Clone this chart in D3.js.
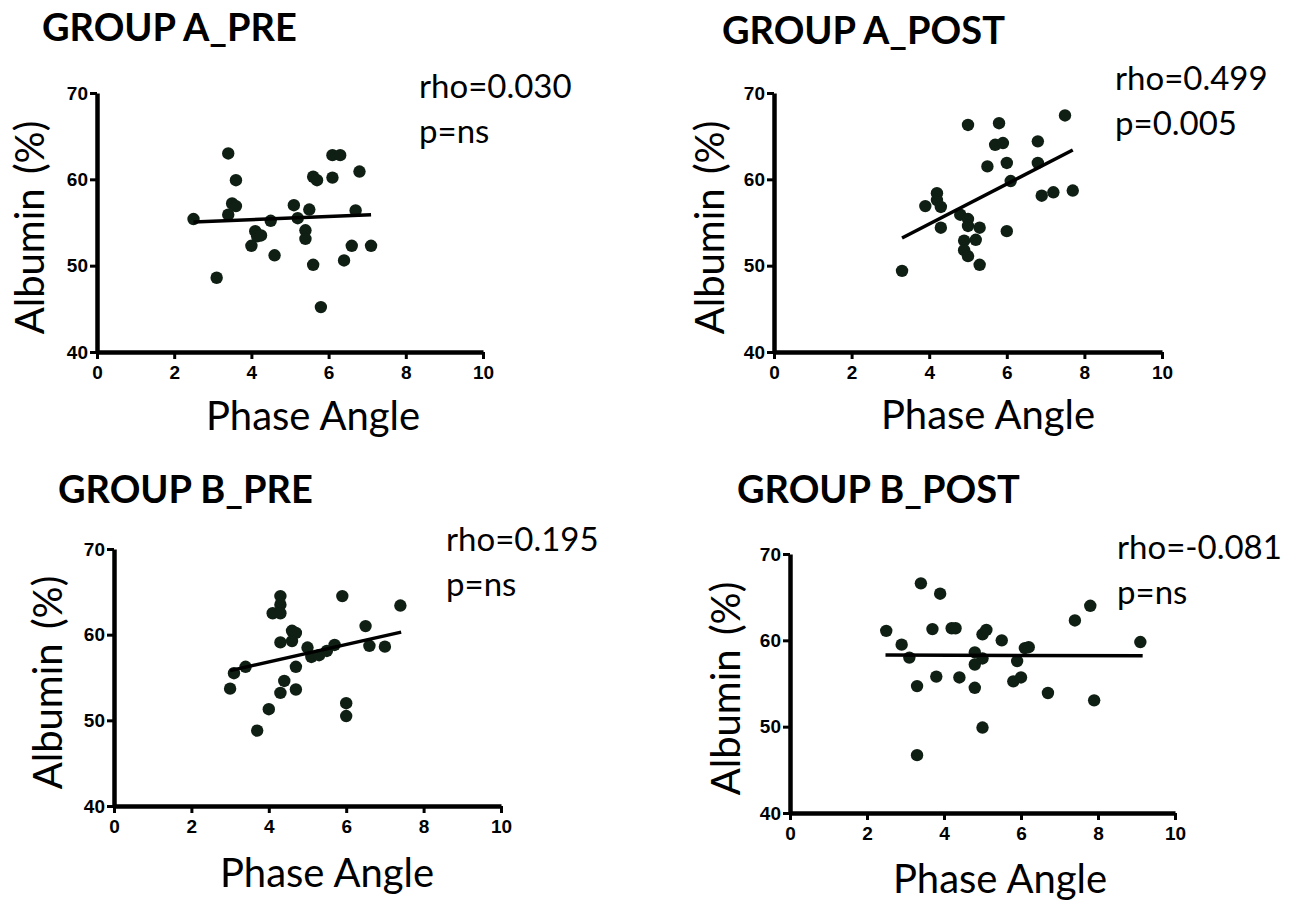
<!DOCTYPE html>
<html>
<head>
<meta charset="utf-8">
<script src="https://cdn.jsdelivr.net/npm/d3@7"></script>
<style>
  body { margin: 0; background: #fff; }
  .title { font-family: Lato, "Open Sans", sans-serif; font-weight: bold; font-size: 38px; }
  .lab { font-family: Lato, "Open Sans", sans-serif; font-size: 40px; }
  .stat { font-family: Lato, "Open Sans", sans-serif; font-size: 33px; }
</style>
</head>
<body>
<div id="chart"></div>
<script>
// data
var aPreX = [2.5, 3.1, 3.4, 3.4, 3.5, 3.6, 3.6, 4.0, 4.1, 4.15, 4.25, 4.5, 4.6, 5.1, 5.2, 5.4, 5.4, 5.5, 5.6, 5.7, 5.6, 5.8, 6.1, 6.1, 6.3, 6.4, 6.6, 6.7, 6.8, 7.1];
var aPreY = [55.4, 48.6, 63.0, 55.9, 57.2, 56.9, 59.9, 52.3, 54.0, 53.4, 53.5, 55.2, 51.2, 57.0, 55.5, 54.1, 53.1, 56.5, 60.3, 59.9, 50.1, 45.2, 60.2, 62.8, 62.8, 50.6, 52.3, 56.4, 60.9, 52.3];
var aPreFit = [[2.5, 55.05], [7.1, 55.9]];

var aPostX = [3.3, 3.9, 4.2, 4.2, 4.3, 4.3, 4.8, 4.9, 4.9, 5.0, 5.0, 5.0, 5.0, 5.2, 5.3, 5.3, 5.5, 5.7, 5.8, 5.9, 6.0, 6.0, 6.1, 6.8, 6.8, 6.9, 7.2, 7.5, 7.7];
var aPostY = [49.4, 56.9, 58.4, 57.6, 56.8, 54.4, 55.9, 52.9, 51.8, 51.1, 55.4, 54.6, 66.3, 53.0, 54.4, 50.1, 61.5, 64.0, 66.5, 64.2, 61.9, 54.0, 59.8, 64.4, 61.9, 58.1, 58.5, 67.4, 58.7];
var aPostFit = [[3.3, 53.2], [7.7, 63.4]];

var bPreX = [3.0, 3.1, 3.4, 3.7, 4.0, 4.1, 4.3, 4.3, 4.3, 4.3, 4.3, 4.4, 4.6, 4.7, 4.6, 4.7, 4.7, 5.0, 5.1, 5.3, 5.5, 5.7, 5.9, 6.0, 6.0, 6.5, 6.6, 7.0, 7.4];
var bPreY = [53.7, 55.5, 56.25, 48.8, 51.3, 62.5, 64.5, 63.5, 62.5, 59.1, 53.2, 54.6, 60.45, 60.2, 59.25, 56.25, 53.6, 58.5, 57.4, 57.6, 58.1, 58.8, 64.5, 52.0, 50.5, 61.0, 58.7, 58.6, 63.4];
var bPreFit = [[3.0, 55.8], [7.42, 60.3]];

var bPostX = [2.5, 2.9, 3.1, 3.3, 3.3, 3.4, 3.7, 3.8, 3.9, 4.2, 4.3, 4.4, 4.8, 4.8, 4.8, 5.0, 5.1, 5.0, 5.0, 5.5, 5.8, 5.9, 6.0, 6.1, 6.2, 6.7, 7.4, 7.8, 7.9, 9.1];
var bPostY = [61.1, 59.5, 58.0, 54.7, 46.7, 66.6, 61.3, 55.8, 65.4, 61.4, 61.4, 55.7, 58.6, 57.2, 54.5, 60.7, 61.2, 57.9, 49.9, 60.0, 55.25, 57.6, 55.7, 59.1, 59.2, 53.9, 62.3, 64.0, 53.05, 59.8];
var bPostFit = [[2.48, 58.3], [9.16, 58.2]];

var titles = ["GROUP A_PRE", "GROUP A_POST", "GROUP B_PRE", "GROUP B_POST"];
var rhoLabels = ["rho=0.030", "rho=0.499", "rho=0.195", "rho=-0.081"];
var pLabels = ["p=ns", "p=0.005", "p=ns", "p=ns"];
var xTicks = [0, 2, 4, 6, 8, 10];
var yTicks = [40, 50, 60, 70];

// panel layout (pixel frame of each plot)
var panels = [
  { x: aPreX, y: aPreY, fit: aPreFit, x0: 97, x1: 483, yT: 93, yB: 352, tx: 42, ty: 41, sx: 419, sy: 98, ax: 44, bx: 313, by: 430 },
  { x: aPostX, y: aPostY, fit: aPostFit, x0: 774, x1: 1162, yT: 93, yB: 352, tx: 722, ty: 44, sx: 1115, sy: 90, ax: 724, bx: 988, by: 429 },
  { x: bPreX, y: bPreY, fit: bPreFit, x0: 114, x1: 501, yT: 549, yB: 806, tx: 58, ty: 503, sx: 446, sy: 551, ax: 62, bx: 327, by: 887 },
  { x: bPostX, y: bPostY, fit: bPostFit, x0: 790, x1: 1175, yT: 554, yB: 813, tx: 737, ty: 503, sx: 1117, sy: 559, ax: 740, bx: 1000, by: 893 }
];

var svg = d3.select("#chart").append("svg")
  .attr("width", 1303)
  .attr("height", 901);

panels.forEach(function(p, i) {
  var xScale = d3.scaleLinear().domain([0, 10]).range([p.x0, p.x1]);
  var yScale = d3.scaleLinear().domain([40, 70]).range([p.yB, p.yT]);
  var g = svg.append("g");

  // axes
  var xAxis = g.append("g")
    .attr("transform", `translate(0,${p.yB})`)
    .call(d3.axisBottom(xScale).tickValues(xTicks).tickSize(7).tickSizeOuter(0).tickFormat(d3.format("d")));
  var yAxis = g.append("g")
    .attr("transform", `translate(${p.x0},0)`)
    .call(d3.axisLeft(yScale).tickValues(yTicks).tickSize(7).tickSizeOuter(0));
  [xAxis, yAxis].forEach(function(a) {
    a.select(".domain").attr("stroke", "#000").attr("stroke-width", 4.5);
    a.selectAll(".tick line").attr("stroke", "#000").attr("stroke-width", 3);
    a.selectAll(".tick text").attr("fill", "#000")
      .attr("style", "font: bold 19px 'Liberation Sans', Arial, sans-serif");
  });
  xAxis.selectAll(".tick text").attr("y", 13).attr("dy", "0.75em");
  yAxis.selectAll(".tick text").attr("x", -9);

  // points
  g.selectAll("circle")
    .data(d3.zip(p.x, p.y))
    .enter()
    .append("circle")
    .attr("cx", d => xScale(d[0]))
    .attr("cy", d => yScale(d[1]))
    .attr("r", 6.2)
    .attr("fill", "#0f1f14");

  // fit line
  g.append("path")
    .datum(p.fit)
    .attr("d", d3.line().x(d => xScale(d[0])).y(d => yScale(d[1])))
    .attr("stroke", "#000")
    .attr("stroke-width", 3.5)
    .attr("fill", "none");

  // texts
  g.append("text").attr("class", "title").attr("x", p.tx).attr("y", p.ty).text(titles[i]);
  g.append("text").attr("class", "stat").attr("x", p.sx).attr("y", p.sy).text(rhoLabels[i]);
  g.append("text").attr("class", "stat").attr("x", p.sx).attr("y", p.sy + 45).text(pLabels[i]);
  var yl = g.append("text").attr("class", "lab")
    .attr("transform", `translate(${p.ax},${(p.yT + p.yB) / 2 + 5}) rotate(-90)`)
    .attr("text-anchor", "middle");
  yl.append("tspan").text("Albumin ");
  yl.append("tspan").attr("dx", 4).text("(%)");
  g.append("text").attr("class", "lab")
    .attr("x", p.bx).attr("y", p.by)
    .attr("text-anchor", "middle")
    .text("Phase Angle");
});
</script>
</body>
</html>
